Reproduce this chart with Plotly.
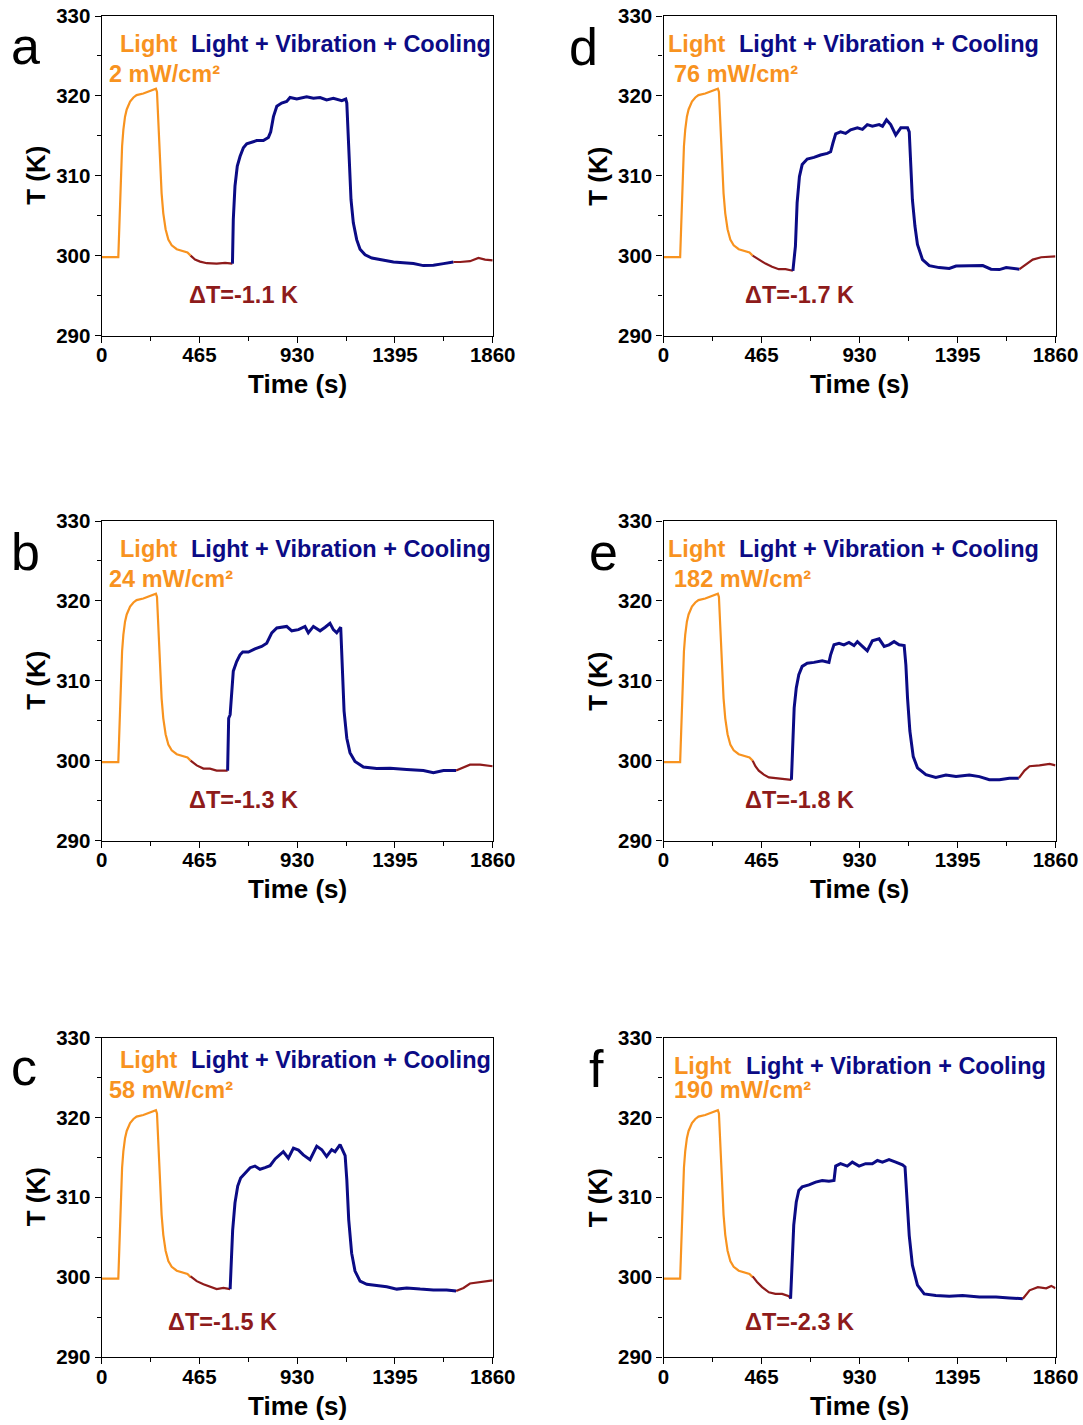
import plotly.graph_objects as go

# ---------------- data ----------------
# light-only heating segment (identical in all six panels)
light_t = [0, 79, 84, 90, 97, 103, 111, 119, 135, 151, 166, 198, 230, 258, 263, 270, 277, 285,
           293, 304, 317, 333, 357, 388, 408, 423]
light_T = [299.8, 299.8, 303.7, 309.9, 313.7, 315.75, 317.4, 318.3, 319.3, 319.8, 320.1, 320.3,
           320.6, 320.9, 320.5, 316.6, 311.2, 307.8, 305.3, 303.3, 302.0, 301.3, 300.8, 300.6,
           300.4, 300.0]

# panel a (2 mW/cm2)
a_rest1_t = [423, 444, 468, 500, 547, 587, 622]
a_rest1_T = [300.0, 299.5, 299.25, 299.05, 299.0, 299.1, 299.0]
a_vib_t = [622, 626, 634, 645, 658, 674, 690, 714, 737, 769, 793, 804, 817, 833, 856, 880, 896,
           928, 975, 1007, 1039, 1070, 1102, 1142, 1161, 1166, 1172, 1178, 1186, 1197, 1213, 1229,
           1253, 1285, 1324, 1356, 1388, 1435, 1483, 1530, 1578, 1626, 1673]
a_vib_T = [299.0, 304.5, 308.7, 311.2, 312.4, 313.5, 314.0, 314.2, 314.4, 314.4, 314.8, 315.5,
           317.4, 318.7, 319.1, 319.3, 319.8, 319.6, 319.9, 319.7, 319.8, 319.5, 319.7, 319.4,
           319.6, 319.1, 314.9, 310.75, 307.0, 304.1, 302.0, 300.8, 300.1, 299.7, 299.5, 299.3,
           299.2, 299.1, 299.0, 298.75, 298.8, 299.0, 299.2]
a_rest2_t = [1673, 1705, 1752, 1792, 1824, 1860]
a_rest2_T = [299.2, 299.2, 299.3, 299.7, 299.5, 299.4]

# panel b (24 mW/cm2)
b_rest1_t = [423, 452, 484, 515, 547, 579, 599]
b_rest1_T = [300.0, 299.4, 299.0, 299.0, 298.75, 298.7, 298.75]
b_vib_t = [599, 604, 611, 618, 626, 642, 658, 671, 698, 729, 761, 785, 809, 833, 856, 880, 904,
           936, 967, 983, 1007, 1039, 1063, 1086, 1102, 1118, 1137, 1143, 1153, 1166, 1181, 1205,
           1245, 1308, 1372, 1451, 1530, 1578, 1626, 1686]
b_vib_T = [298.75, 305.3, 305.75, 308.7, 311.2, 312.4, 313.25, 313.6, 313.6, 314.0, 314.3, 314.7,
           316.0, 316.6, 316.7, 316.8, 316.25, 316.4, 316.8, 316.0, 316.8, 316.25, 316.7, 317.2,
           316.4, 316.0, 316.7, 312.0, 306.2, 302.8, 301.0, 299.9, 299.2, 299.0, 299.05, 298.9,
           298.75, 298.5, 298.75, 298.75]
b_rest2_t = [1686, 1721, 1752, 1800, 1860]
b_rest2_T = [298.75, 299.2, 299.5, 299.5, 299.3]

# panel c (58 mW/cm2)
c_rest1_t = [423, 452, 484, 515, 547, 579, 611]
c_rest1_T = [300.1, 299.5, 299.1, 298.8, 298.5, 298.65, 298.5]
c_vib_t = [611, 617, 623, 634, 647, 661, 682, 706, 729, 753, 777, 801, 825, 848, 864, 888, 912,
           936, 959, 991, 1023, 1047, 1070, 1094, 1110, 1134, 1158, 1166, 1175, 1189, 1205, 1229,
           1261, 1308, 1356, 1404, 1451, 1515, 1578, 1641, 1686]
c_vib_T = [298.5, 301.4, 305.9, 309.3, 311.4, 312.4, 313.0, 313.7, 313.9, 313.5, 313.7, 313.95,
           314.8, 315.3, 315.7, 314.9, 316.15, 315.9, 315.3, 314.7, 316.4, 315.95, 315.1, 315.95,
           315.7, 316.6, 315.2, 312.2, 307.2, 303.0, 300.75, 299.5, 299.1, 298.95, 298.8, 298.5,
           298.65, 298.5, 298.4, 298.4, 298.25]
c_rest2_t = [1686, 1721, 1752, 1800, 1860]
c_rest2_T = [298.25, 298.65, 299.2, 299.4, 299.6]

# panel d (76 mW/cm2)
d_rest1_t = [423, 452, 484, 515, 547, 579, 603, 614]
d_rest1_T = [300.0, 299.5, 299.0, 298.6, 298.3, 298.3, 298.2, 298.1]
d_vib_t = [614, 620, 626, 634, 645, 658, 682, 714, 745, 777, 793, 804, 817, 840, 864, 888, 920,
           944, 967, 991, 1023, 1039, 1058, 1078, 1102, 1126, 1158, 1166, 1172, 1181, 1193, 1205,
           1229, 1261, 1308, 1356, 1388, 1451, 1515, 1554, 1594, 1626, 1689]
d_vib_T = [298.1, 299.5, 301.2, 306.6, 309.9, 311.4, 312.1, 312.3, 312.6, 312.8, 313.0, 314.1,
           315.25, 315.5, 315.3, 315.75, 316.0, 315.8, 316.4, 316.2, 316.4, 316.2, 317.0, 316.4,
           315.1, 316.0, 316.0, 315.5, 311.2, 307.0, 303.7, 301.4, 299.5, 298.75, 298.5, 298.4,
           298.7, 298.7, 298.75, 298.3, 298.25, 298.5, 298.3]
d_rest2_t = [1689, 1721, 1752, 1792, 1860]
d_rest2_T = [298.3, 298.9, 299.5, 299.8, 299.9]

# panel e (182 mW/cm2)
e_rest1_t = [423, 436, 452, 476, 500, 539, 579, 607]
e_rest1_T = [300.0, 299.3, 298.75, 298.25, 297.9, 297.8, 297.75, 297.6]
e_vib_t = [607, 614, 620, 630, 642, 658, 682, 714, 753, 785, 793, 809, 833, 856, 880, 904, 920,
           944, 967, 991, 1023, 1047, 1070, 1094, 1118, 1142, 1150, 1158, 1169, 1185, 1205, 1245,
           1292, 1340, 1388, 1451, 1499, 1546, 1594, 1641, 1686]
e_vib_T = [297.6, 302.4, 306.6, 309.1, 310.75, 311.8, 312.2, 312.3, 312.5, 312.3, 313.25, 314.5,
           314.7, 314.5, 314.8, 314.4, 314.9, 314.3, 313.75, 315.0, 315.25, 314.3, 314.5, 314.9,
           314.5, 314.4, 312.0, 307.8, 303.7, 300.5, 299.1, 298.25, 297.9, 298.2, 298.0, 298.2,
           298.0, 297.6, 297.6, 297.8, 297.8]
e_rest2_t = [1686, 1713, 1737, 1784, 1832, 1860]
e_rest2_T = [297.8, 298.75, 299.3, 299.4, 299.6, 299.4]

# panel f (190 mW/cm2)
f_rest1_t = [423, 444, 468, 500, 531, 563, 595, 603]
f_rest1_T = [300.1, 299.4, 298.75, 298.1, 297.9, 297.9, 297.6, 297.3]
f_vib_t = [603, 611, 618, 630, 642, 658, 690, 722, 753, 785, 809, 817, 840, 872, 896, 928, 959,
           991, 1015, 1039, 1070, 1102, 1134, 1146, 1156, 1166, 1181, 1205, 1237, 1292, 1356, 1419,
           1499, 1578, 1641, 1705]
f_vib_T = [297.3, 301.5, 306.5, 309.4, 310.85, 311.3, 311.55, 311.9, 312.1, 312.0, 312.1, 313.9,
           314.2, 313.9, 314.4, 313.9, 314.2, 314.2, 314.6, 314.4, 314.7, 314.4, 314.05, 313.8,
           309.0, 305.2, 301.5, 299.0, 297.9, 297.7, 297.6, 297.7, 297.5, 297.5, 297.4, 297.3]
f_rest2_t = [1705, 1737, 1776, 1816, 1840, 1860]
f_rest2_T = [297.3, 298.35, 298.75, 298.6, 298.9, 298.6]

panel_letters = ["a", "d", "b", "e", "c", "f"]
intensities = ["2 mW/cm²", "76 mW/cm²", "24 mW/cm²", "182 mW/cm²", "58 mW/cm²", "190 mW/cm²"]
delta_labels = ["ΔT=-1.1 K", "ΔT=-1.7 K", "ΔT=-1.3 K", "ΔT=-1.8 K", "ΔT=-1.5 K", "ΔT=-2.3 K"]
x_ticks = [0, 465, 930, 1395, 1860]
y_ticks = [290, 300, 310, 320, 330]
x_title = "Time (s)"
y_title = "T (K)"

panels = [
    (a_rest1_t, a_rest1_T, a_vib_t, a_vib_T, a_rest2_t, a_rest2_T),
    (d_rest1_t, d_rest1_T, d_vib_t, d_vib_T, d_rest2_t, d_rest2_T),
    (b_rest1_t, b_rest1_T, b_vib_t, b_vib_T, b_rest2_t, b_rest2_T),
    (e_rest1_t, e_rest1_T, e_vib_t, e_vib_T, e_rest2_t, e_rest2_T),
    (c_rest1_t, c_rest1_T, c_vib_t, c_vib_T, c_rest2_t, c_rest2_T),
    (f_rest1_t, f_rest1_T, f_vib_t, f_vib_T, f_rest2_t, f_rest2_T),
]

# ---------------- styling / layout ----------------
W, H = 1083, 1425
ORANGE = "#F8931F"
NAVY = "#0B0B85"
DRED = "#8E1B1B"
FONT = "Liberation Sans, Arial, sans-serif"
TXT = 23.5

def px(x):
    return x / W

def py(y):
    return 1 - y / H

col_x = [(101.7, 492.7), (663.5, 1055.5)]
row_y = [(16, 335.5), (521, 840.5), (1037.5, 1357)]
xtitle_y = [384, 889, 1406]
ytitle_x = [36, 598]

# text positions per panel (pixel): letter, light, lvc, intensity, delta
text_pos = [
    dict(letter=(9, 46), light=(118, 44), lvc=(189, 44), inten=(107, 74), delta=(187, 295)),
    dict(letter=(567, 47), light=(666, 44), lvc=(737, 44), inten=(672, 74), delta=(743, 295)),
    dict(letter=(9, 552), light=(118, 549), lvc=(189, 549), inten=(107, 579), delta=(187, 800)),
    dict(letter=(587, 552), light=(666, 549), lvc=(737, 549), inten=(672, 579), delta=(743, 800)),
    dict(letter=(9, 1067), light=(118, 1060), lvc=(189, 1060), inten=(107, 1090), delta=(166, 1322)),
    dict(letter=(587, 1069), light=(672, 1066), lvc=(744, 1066), inten=(672, 1090), delta=(743, 1322)),
]

fig = go.Figure()
layout = dict(width=W, height=H, margin=dict(l=0, r=0, t=0, b=0, autoexpand=False),
              paper_bgcolor="white", plot_bgcolor="white", showlegend=False,
              font=dict(family=FONT, color="black"))
annotations = []

def ann(text, x, y, size, color="black", bold=True, xanchor="left", angle=0):
    f = dict(family=FONT, size=size, color=color)
    if bold:
        f["weight"] = "bold"
    return dict(text=text, x=px(x), y=py(y), xref="paper", yref="paper",
                xanchor=xanchor, yanchor="middle", showarrow=False, font=f,
                textangle=angle)

for i, (r1t, r1T, vt, vT, r2t, r2T) in enumerate(panels):
    row, col = i // 2, i % 2
    ax = "" if i == 0 else str(i + 1)
    xa, ya = "x" + ax, "y" + ax
    fig.add_trace(go.Scatter(x=light_t, y=light_T, mode="lines", xaxis=xa, yaxis=ya,
                             line=dict(color=ORANGE, width=2.2)))
    fig.add_trace(go.Scatter(x=r1t, y=r1T, mode="lines", xaxis=xa, yaxis=ya,
                             line=dict(color=DRED, width=2.2)))
    fig.add_trace(go.Scatter(x=vt, y=vT, mode="lines", xaxis=xa, yaxis=ya,
                             line=dict(color=NAVY, width=3)))
    fig.add_trace(go.Scatter(x=r2t, y=r2T, mode="lines", xaxis=xa, yaxis=ya,
                             line=dict(color=DRED, width=2.2)))
    x0, x1 = col_x[col]
    y0, y1 = row_y[row]
    common = dict(ticks="outside", ticklen=6, tickwidth=1.3, tickcolor="black",
                  showline=True, linecolor="black", linewidth=1.3, mirror=True,
                  showgrid=False, zeroline=False, automargin=False,
                  tickfont=dict(family=FONT, size=20.5, color="black", weight="bold"))
    layout["xaxis" + ax] = dict(
        domain=[px(x0), px(x1)], anchor=ya, range=[0, 1860],
        tickvals=x_ticks, ticktext=[str(v) for v in x_ticks], ticklabelstandoff=-5,
        minor=dict(tickvals=[232.5, 697.5, 1162.5, 1627.5], ticks="outside", ticklen=4,
                   tickwidth=1.3, tickcolor="black", showgrid=False),
        **common)
    layout["yaxis" + ax] = dict(
        domain=[py(y1), py(y0)], anchor=xa, range=[290, 330],
        tickvals=y_ticks, ticktext=[str(v) for v in y_ticks],
        minor=dict(tickvals=[295, 305, 315, 325], ticks="outside", ticklen=4,
                   tickwidth=1.3, tickcolor="black", showgrid=False),
        **common)
    annotations.append(ann(x_title, (x0 + x1) / 2, xtitle_y[row], 26, xanchor="center"))
    annotations.append(ann(y_title, ytitle_x[col], (y0 + y1) / 2, 26, xanchor="center", angle=-90))
    tp = text_pos[i]
    annotations.append(ann(panel_letters[i], tp["letter"][0], tp["letter"][1], 52, bold=False))
    annotations.append(ann("Light", tp["light"][0], tp["light"][1], TXT, ORANGE))
    annotations.append(ann("Light + Vibration + Cooling", tp["lvc"][0], tp["lvc"][1], TXT, NAVY))
    annotations.append(ann(intensities[i], tp["inten"][0], tp["inten"][1], TXT, ORANGE))
    annotations.append(ann(delta_labels[i], tp["delta"][0], tp["delta"][1], TXT, DRED))

layout["annotations"] = annotations
fig.update_layout(**layout)
fig.write_html("out.html",
               post_script="document.body.style.margin='0';document.body.style.overflow='hidden';")
